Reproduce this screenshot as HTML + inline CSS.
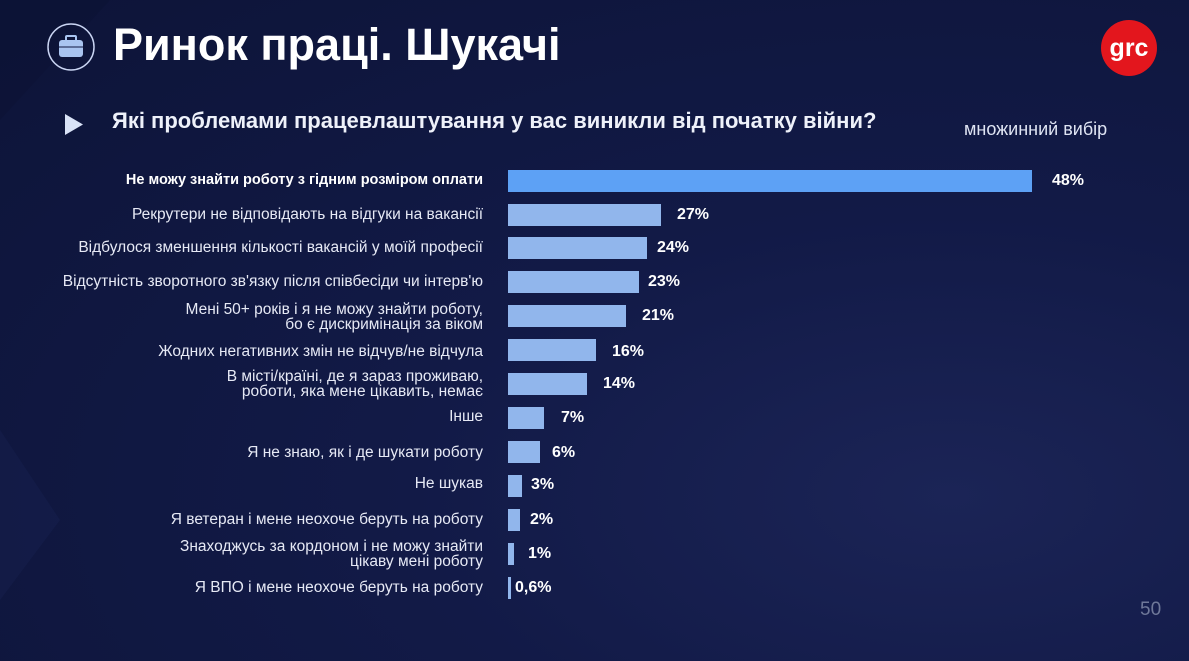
<!DOCTYPE html>
<html><head><meta charset="utf-8"><style>
body{margin:0;width:1189px;height:661px;overflow:hidden;font-family:"Liberation Sans",sans-serif;}
#bg{position:absolute;left:0;top:0;width:1189px;height:661px;background:radial-gradient(ellipse at 80% 75%,#1b2456 0%,#121a47 40%,#0d1438 100%);}
.t{position:absolute;color:#fff;white-space:nowrap;}
.lab{position:absolute;right:706px;text-align:right;color:#e6e9f5;font-size:15.5px;line-height:15px;white-space:nowrap;}
.bar{position:absolute;left:508px;height:22px;background:#91b6ec;}
.val{position:absolute;color:#fff;font-weight:bold;font-size:16px;}
</style></head><body><div id="bg"></div>
<svg style="position:absolute;left:0;top:0" width="1189" height="661">
<polygon points="0,0 110,0 0,120" fill="#0b1233" opacity="0.5"/>
<polygon points="0,430 60,520 0,600" fill="#1a2352" opacity="0.4"/>
<circle cx="71" cy="47" r="23" fill="none" stroke="#c9d4f2" stroke-width="1.5"/>
<rect x="59" y="40" width="24" height="17" rx="3" fill="#a9c4f0"/>
<rect x="66" y="36" width="10" height="5" rx="1" fill="none" stroke="#a9c4f0" stroke-width="2"/>
<line x1="59" y1="47" x2="83" y2="47" stroke="#0f1640" stroke-width="1"/>
<polygon points="65,114 65,135 83,124.5" fill="#d9e3f7"/>
<circle cx="1129" cy="48" r="28" fill="#e3161d"/>
<text x="1129" y="56" fill="#fff" font-family="Liberation Sans" font-weight="bold" font-size="25" text-anchor="middle">grc</text>
</svg>
<div class="t" style="left:113px;top:19px;font-size:45px;font-weight:bold;">Ринок праці. Шукачі</div>
<div class="t" style="left:112px;top:108px;font-size:22px;font-weight:bold;color:#eef1fa">Які проблемами працевлаштування у вас виникли від початку війни?</div>
<div class="t" style="left:964px;top:119px;font-size:18px;color:#dfe4f3">множинний вибір</div>
<div class="t" style="left:1140px;top:599px;font-size:19px;color:#6f7899">50</div>

<div class="lab" style="top:173px;font-weight:bold;color:#fff;font-size:14.5px">Не можу знайти роботу з гідним розміром оплати</div>
<div class="bar" style="top:170px;width:524px;background:#5da1f5"></div><div class="val" style="left:1052px;top:172px">48%</div>

<div class="lab" style="top:207px">Рекрутери не відповідають на відгуки на вакансії</div>
<div class="bar" style="top:204px;width:153px"></div><div class="val" style="left:677px;top:206px">27%</div>

<div class="lab" style="top:240px">Відбулося зменшення кількості вакансій у моїй професії</div>
<div class="bar" style="top:237px;width:139px"></div><div class="val" style="left:657px;top:239px">24%</div>

<div class="lab" style="top:274px">Відсутність зворотного зв'язку після співбесіди чи інтерв'ю</div>
<div class="bar" style="top:271px;width:131px"></div><div class="val" style="left:648px;top:273px">23%</div>

<div class="lab" style="top:302px">Мені 50+ років і я не можу знайти роботу,<br>бо є дискримінація за віком</div>
<div class="bar" style="top:305px;width:118px"></div><div class="val" style="left:642px;top:307px">21%</div>

<div class="lab" style="top:344px">Жодних негативних змін не відчув/не відчула</div>
<div class="bar" style="top:339px;width:88px"></div><div class="val" style="left:612px;top:343px">16%</div>

<div class="lab" style="top:369px">В місті/країні, де я зараз проживаю,<br>роботи, яка мене цікавить, немає</div>
<div class="bar" style="top:373px;width:79px"></div><div class="val" style="left:603px;top:375px">14%</div>

<div class="lab" style="top:409px">Інше</div>
<div class="bar" style="top:407px;width:36px"></div><div class="val" style="left:561px;top:409px">7%</div>

<div class="lab" style="top:445px">Я не знаю, як і де шукати роботу</div>
<div class="bar" style="top:441px;width:32px"></div><div class="val" style="left:552px;top:444px">6%</div>

<div class="lab" style="top:476px">Не шукав</div>
<div class="bar" style="top:475px;width:14px"></div><div class="val" style="left:531px;top:476px">3%</div>

<div class="lab" style="top:512px">Я ветеран і мене неохоче беруть на роботу</div>
<div class="bar" style="top:509px;width:12px"></div><div class="val" style="left:530px;top:511px">2%</div>

<div class="lab" style="top:539px">Знаходжусь за кордоном і не можу знайти<br>цікаву мені роботу</div>
<div class="bar" style="top:543px;width:6px"></div><div class="val" style="left:528px;top:545px">1%</div>

<div class="lab" style="top:580px">Я ВПО і мене неохоче беруть на роботу</div>
<div class="bar" style="top:577px;width:3px"></div><div class="val" style="left:515px;top:579px">0,6%</div>
</body></html>
